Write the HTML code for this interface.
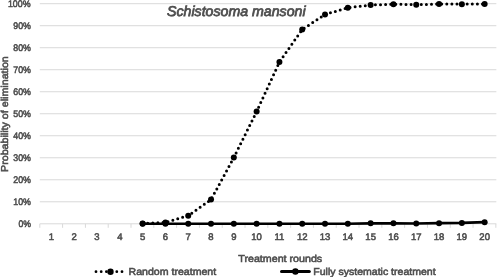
<!DOCTYPE html>
<html><head><meta charset="utf-8"><style>
html,body{margin:0;padding:0;background:#fff;}
svg{display:block;filter:grayscale(1);text-rendering:geometricPrecision;}
.t{font-family:"Liberation Sans",sans-serif;font-size:10px;fill:#4d4d4d;stroke:#4d4d4d;stroke-width:0.55px;}
.tk{font-size:9.5px;}
.ti{font-size:14.2px;font-style:italic;stroke-width:0.75px;}
</style></head><body>
<svg width="497" height="277" viewBox="0 0 497 277">
<line x1="39.80" y1="201.79" x2="496.35" y2="201.79" stroke="#d9d9d9" stroke-width="1"/>
<line x1="39.80" y1="179.78" x2="496.35" y2="179.78" stroke="#d9d9d9" stroke-width="1"/>
<line x1="39.80" y1="157.77" x2="496.35" y2="157.77" stroke="#d9d9d9" stroke-width="1"/>
<line x1="39.80" y1="135.76" x2="496.35" y2="135.76" stroke="#d9d9d9" stroke-width="1"/>
<line x1="39.80" y1="113.75" x2="496.35" y2="113.75" stroke="#d9d9d9" stroke-width="1"/>
<line x1="39.80" y1="91.74" x2="496.35" y2="91.74" stroke="#d9d9d9" stroke-width="1"/>
<line x1="39.80" y1="69.73" x2="496.35" y2="69.73" stroke="#d9d9d9" stroke-width="1"/>
<line x1="39.80" y1="47.72" x2="496.35" y2="47.72" stroke="#d9d9d9" stroke-width="1"/>
<line x1="39.80" y1="25.71" x2="496.35" y2="25.71" stroke="#d9d9d9" stroke-width="1"/>
<line x1="39.80" y1="3.70" x2="496.35" y2="3.70" stroke="#d9d9d9" stroke-width="1"/>
<line x1="39.80" y1="223.80" x2="496.35" y2="223.80" stroke="#d9d9d9" stroke-width="1"/>
<line x1="39.80" y1="223.80" x2="39.80" y2="227.80" stroke="#d9d9d9" stroke-width="1"/>
<line x1="62.60" y1="223.80" x2="62.60" y2="227.80" stroke="#d9d9d9" stroke-width="1"/>
<line x1="85.41" y1="223.80" x2="85.41" y2="227.80" stroke="#d9d9d9" stroke-width="1"/>
<line x1="108.21" y1="223.80" x2="108.21" y2="227.80" stroke="#d9d9d9" stroke-width="1"/>
<line x1="131.01" y1="223.80" x2="131.01" y2="227.80" stroke="#d9d9d9" stroke-width="1"/>
<line x1="153.81" y1="223.80" x2="153.81" y2="227.80" stroke="#d9d9d9" stroke-width="1"/>
<line x1="176.62" y1="223.80" x2="176.62" y2="227.80" stroke="#d9d9d9" stroke-width="1"/>
<line x1="199.42" y1="223.80" x2="199.42" y2="227.80" stroke="#d9d9d9" stroke-width="1"/>
<line x1="222.22" y1="223.80" x2="222.22" y2="227.80" stroke="#d9d9d9" stroke-width="1"/>
<line x1="245.02" y1="223.80" x2="245.02" y2="227.80" stroke="#d9d9d9" stroke-width="1"/>
<line x1="267.83" y1="223.80" x2="267.83" y2="227.80" stroke="#d9d9d9" stroke-width="1"/>
<line x1="290.63" y1="223.80" x2="290.63" y2="227.80" stroke="#d9d9d9" stroke-width="1"/>
<line x1="313.43" y1="223.80" x2="313.43" y2="227.80" stroke="#d9d9d9" stroke-width="1"/>
<line x1="336.23" y1="223.80" x2="336.23" y2="227.80" stroke="#d9d9d9" stroke-width="1"/>
<line x1="359.04" y1="223.80" x2="359.04" y2="227.80" stroke="#d9d9d9" stroke-width="1"/>
<line x1="381.84" y1="223.80" x2="381.84" y2="227.80" stroke="#d9d9d9" stroke-width="1"/>
<line x1="404.64" y1="223.80" x2="404.64" y2="227.80" stroke="#d9d9d9" stroke-width="1"/>
<line x1="427.44" y1="223.80" x2="427.44" y2="227.80" stroke="#d9d9d9" stroke-width="1"/>
<line x1="450.25" y1="223.80" x2="450.25" y2="227.80" stroke="#d9d9d9" stroke-width="1"/>
<line x1="473.05" y1="223.80" x2="473.05" y2="227.80" stroke="#d9d9d9" stroke-width="1"/>
<line x1="495.85" y1="223.80" x2="495.85" y2="227.80" stroke="#d9d9d9" stroke-width="1"/>
<text x="18.40" y="227.30" class="t tk" textLength="12.5" lengthAdjust="spacingAndGlyphs">0%</text>
<text x="13.30" y="205.29" class="t tk" textLength="17.6" lengthAdjust="spacingAndGlyphs">10%</text>
<text x="13.30" y="183.28" class="t tk" textLength="17.6" lengthAdjust="spacingAndGlyphs">20%</text>
<text x="13.30" y="161.27" class="t tk" textLength="17.6" lengthAdjust="spacingAndGlyphs">30%</text>
<text x="13.30" y="139.26" class="t tk" textLength="17.6" lengthAdjust="spacingAndGlyphs">40%</text>
<text x="13.30" y="117.25" class="t tk" textLength="17.6" lengthAdjust="spacingAndGlyphs">50%</text>
<text x="13.30" y="95.24" class="t tk" textLength="17.6" lengthAdjust="spacingAndGlyphs">60%</text>
<text x="13.30" y="73.23" class="t tk" textLength="17.6" lengthAdjust="spacingAndGlyphs">70%</text>
<text x="13.30" y="51.22" class="t tk" textLength="17.6" lengthAdjust="spacingAndGlyphs">80%</text>
<text x="13.30" y="29.21" class="t tk" textLength="17.6" lengthAdjust="spacingAndGlyphs">90%</text>
<text x="7.90" y="6.60" class="t tk" textLength="22.6" lengthAdjust="spacingAndGlyphs">100%</text>
<text x="51.40" y="240.3" text-anchor="middle" class="t tk">1</text>
<text x="74.20" y="240.3" text-anchor="middle" class="t tk">2</text>
<text x="97.01" y="240.3" text-anchor="middle" class="t tk">3</text>
<text x="119.81" y="240.3" text-anchor="middle" class="t tk">4</text>
<text x="142.61" y="240.3" text-anchor="middle" class="t tk">5</text>
<text x="165.41" y="240.3" text-anchor="middle" class="t tk">6</text>
<text x="188.22" y="240.3" text-anchor="middle" class="t tk">7</text>
<text x="211.02" y="240.3" text-anchor="middle" class="t tk">8</text>
<text x="233.82" y="240.3" text-anchor="middle" class="t tk">9</text>
<text x="256.62" y="240.3" text-anchor="middle" class="t tk">10</text>
<text x="279.43" y="240.3" text-anchor="middle" class="t tk">11</text>
<text x="302.23" y="240.3" text-anchor="middle" class="t tk">12</text>
<text x="325.03" y="240.3" text-anchor="middle" class="t tk">13</text>
<text x="347.83" y="240.3" text-anchor="middle" class="t tk">14</text>
<text x="370.64" y="240.3" text-anchor="middle" class="t tk">15</text>
<text x="393.44" y="240.3" text-anchor="middle" class="t tk">16</text>
<text x="416.24" y="240.3" text-anchor="middle" class="t tk">17</text>
<text x="439.04" y="240.3" text-anchor="middle" class="t tk">18</text>
<text x="461.85" y="240.3" text-anchor="middle" class="t tk">19</text>
<text x="484.65" y="240.3" text-anchor="middle" class="t tk">20</text>
<polyline points="142.61,223.80 165.41,223.80 188.22,223.80 211.02,223.80 233.82,223.80 256.62,223.80 279.43,223.80 302.23,223.80 325.03,223.80 347.83,223.80 370.64,223.36 393.44,223.36 416.24,223.47 439.04,223.14 461.85,222.92 484.65,222.15" fill="none" stroke="#000" stroke-width="2.6" stroke-linejoin="round"/>
<circle cx="142.61" cy="223.80" r="3.0" fill="#000"/>
<circle cx="165.41" cy="223.80" r="3.0" fill="#000"/>
<circle cx="188.22" cy="223.80" r="3.0" fill="#000"/>
<circle cx="211.02" cy="223.80" r="3.0" fill="#000"/>
<circle cx="233.82" cy="223.80" r="3.0" fill="#000"/>
<circle cx="256.62" cy="223.80" r="3.0" fill="#000"/>
<circle cx="279.43" cy="223.80" r="3.0" fill="#000"/>
<circle cx="302.23" cy="223.80" r="3.0" fill="#000"/>
<circle cx="325.03" cy="223.80" r="3.0" fill="#000"/>
<circle cx="347.83" cy="223.80" r="3.0" fill="#000"/>
<circle cx="370.64" cy="223.36" r="3.0" fill="#000"/>
<circle cx="393.44" cy="223.36" r="3.0" fill="#000"/>
<circle cx="416.24" cy="223.47" r="3.0" fill="#000"/>
<circle cx="439.04" cy="223.14" r="3.0" fill="#000"/>
<circle cx="461.85" cy="222.92" r="3.0" fill="#000"/>
<circle cx="484.65" cy="222.15" r="3.0" fill="#000"/>
<polyline points="142.61,223.58 165.41,222.48 188.22,215.66 211.02,199.59 233.82,157.55 256.62,111.55 279.43,62.03 302.23,29.45 325.03,14.48 347.83,7.66 370.64,5.02 393.44,4.14 416.24,4.69 439.04,4.03 461.85,4.14 484.65,4.03" fill="none" stroke="#000" stroke-width="3.0" stroke-linecap="round" stroke-dasharray="0 5.1" stroke-linejoin="round"/>
<circle cx="142.61" cy="223.58" r="3.0" fill="#000"/>
<circle cx="165.41" cy="222.48" r="3.0" fill="#000"/>
<circle cx="188.22" cy="215.66" r="3.0" fill="#000"/>
<circle cx="211.02" cy="199.59" r="3.0" fill="#000"/>
<circle cx="233.82" cy="157.55" r="3.0" fill="#000"/>
<circle cx="256.62" cy="111.55" r="3.0" fill="#000"/>
<circle cx="279.43" cy="62.03" r="3.0" fill="#000"/>
<circle cx="302.23" cy="29.45" r="3.0" fill="#000"/>
<circle cx="325.03" cy="14.48" r="3.0" fill="#000"/>
<circle cx="347.83" cy="7.66" r="3.0" fill="#000"/>
<circle cx="370.64" cy="5.02" r="3.0" fill="#000"/>
<circle cx="393.44" cy="4.14" r="3.0" fill="#000"/>
<circle cx="416.24" cy="4.69" r="3.0" fill="#000"/>
<circle cx="439.04" cy="4.03" r="3.0" fill="#000"/>
<circle cx="461.85" cy="4.14" r="3.0" fill="#000"/>
<circle cx="484.65" cy="4.03" r="3.0" fill="#000"/>
<text x="167.0" y="16.3" class="t ti" textLength="138.6" lengthAdjust="spacingAndGlyphs">Schistosoma mansoni</text>
<text x="238.3" y="261.7" class="t" textLength="83.9" lengthAdjust="spacingAndGlyphs">Treatment rounds</text>
<text transform="translate(7.8,172.0) rotate(-90)" x="0" y="0" class="t" textLength="115.8" lengthAdjust="spacingAndGlyphs">Probability of elimination</text>
<line x1="96" y1="271.7" x2="122.2" y2="271.7" stroke="#000" stroke-width="2.8" stroke-linecap="round" stroke-dasharray="0 5.2"/>
<circle cx="110.5" cy="271.7" r="3.2" fill="#000"/>
<text x="128.5" y="275.1" class="t" textLength="87.7" lengthAdjust="spacingAndGlyphs">Random treatment</text>
<line x1="281.5" y1="271.5" x2="309.3" y2="271.5" stroke="#000" stroke-width="3" stroke-linecap="round"/>
<circle cx="295.4" cy="271.5" r="3.2" fill="#000"/>
<text x="313.3" y="274.8" class="t" textLength="122.3" lengthAdjust="spacingAndGlyphs">Fully systematic treatment</text>
</svg>
</body></html>
